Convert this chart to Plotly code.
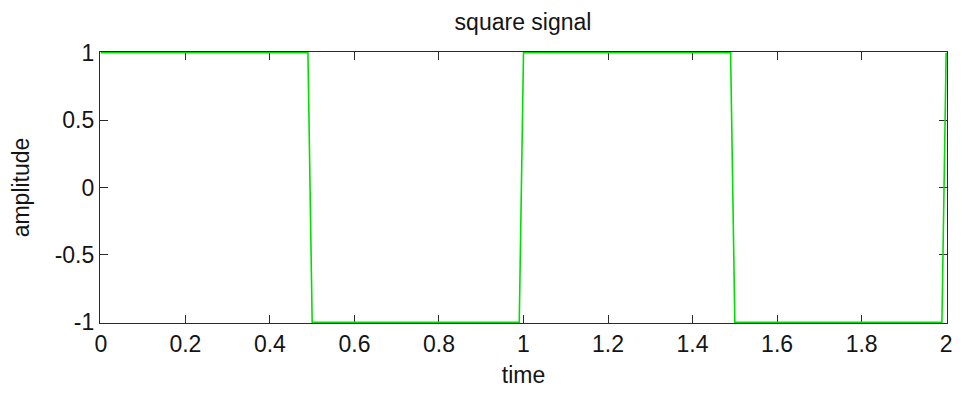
import plotly.graph_objects as go

# Corner points of the sampled square wave (sample step 0.01 s)
time_pts = [0, 0.49, 0.50, 0.99, 1.00, 1.49, 1.50, 1.99, 2.00]
amp_pts = [1, 1, -1, -1, 1, 1, -1, -1, 1]

x_ticks = [0, 0.2, 0.4, 0.6, 0.8, 1, 1.2, 1.4, 1.6, 1.8, 2]
y_ticks = [-1, -0.5, 0, 0.5, 1]

font_family = "Liberation Sans, Arial, sans-serif"
text_color = "#141414"
axis_color = "#2a2a2a"

fig = go.Figure(
    go.Scatter(
        x=time_pts,
        y=amp_pts,
        mode="lines",
        line=dict(color="#00e000", width=1.6),
        hoverinfo="skip",
    )
)

axis_common = dict(
    showline=True,
    linecolor=axis_color,
    linewidth=1.2,
    mirror="ticks",
    ticks="inside",
    ticklen=8,
    tickwidth=1.2,
    tickcolor=axis_color,
    showgrid=False,
    zeroline=False,
    layer="below traces",
    tickfont=dict(family=font_family, size=23, color=text_color),
)

# a hair of padding keeps the trace at the limits from being clipped by the plot area
fig.update_layout(
    width=965,
    height=396,
    margin=dict(l=100, r=13, t=52, b=72),
    paper_bgcolor="white",
    plot_bgcolor="white",
    showlegend=False,
    title=dict(
        text="square signal",
        x=0.542,
        xanchor="center",
        y=0.945,
        yanchor="middle",
        font=dict(family=font_family, size=23, color=text_color),
    ),
    xaxis=dict(
        range=[-0.002, 2.002],
        tickvals=x_ticks,
        ticktext=[f"{v:g}" for v in x_ticks],
        title=dict(text="time", font=dict(family=font_family, size=23, color=text_color), standoff=11),
        **axis_common,
    ),
    yaxis=dict(
        range=[-1.006, 1.006],
        tickvals=y_ticks,
        ticktext=[f"{v:g}" for v in y_ticks],
        title=dict(text="amplitude", font=dict(family=font_family, size=23, color=text_color), standoff=18),
        **axis_common,
    ),
)

fig.write_html("out.html")
